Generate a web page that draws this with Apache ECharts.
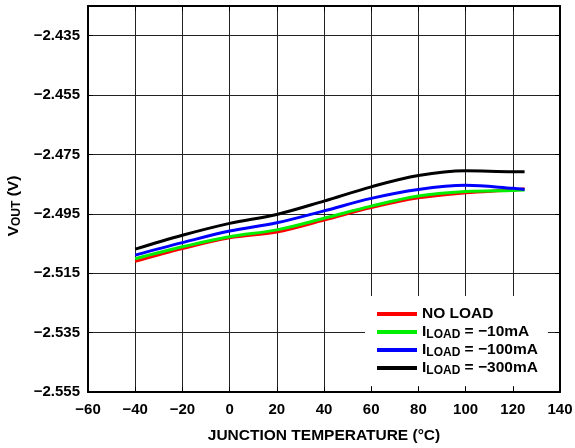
<!DOCTYPE html>
<html>
<head>
<meta charset="utf-8">
<script src="https://cdn.jsdelivr.net/npm/echarts@6/dist/echarts.min.js"></script>
<style>html,body{margin:0;padding:0;background:#fff}#c{width:575px;height:448px}</style>
</head>
<body>
<div id="c"></div>
<script>
var temps = [-40, -20, 0, 20, 40, 60, 80, 100, 120, 125];
var noLoad   = [-2.5110, -2.5067, -2.5031, -2.5011, -2.4971, -2.4929, -2.4896, -2.4879, -2.4870, -2.4865];
var load10   = [-2.5101, -2.5061, -2.5027, -2.5004, -2.4965, -2.4924, -2.4890, -2.4875, -2.4871, -2.4870];
var load100  = [-2.5089, -2.5047, -2.5008, -2.4980, -2.4940, -2.4898, -2.4868, -2.4854, -2.4864, -2.4868];
var load300  = [-2.5069, -2.5022, -2.4982, -2.4952, -2.4907, -2.4859, -2.4821, -2.4805, -2.4808, -2.4808];
var seriesNames = ['NO LOAD', 'ILOAD = \u221210mA', 'ILOAD = \u2212100mA', 'ILOAD = \u2212300mA'];
var legendRich = ['NO LOAD', '{b|I}{s|LOAD}{b| = \u221210mA}', '{b|I}{s|LOAD}{b| = \u2212100mA}', '{b|I}{s|LOAD}{b| = \u2212300mA}'];
var colors = ['#ff0000', '#00ee00', '#0000ff', '#000000'];
var allData = [noLoad, load10, load100, load300];

var FONT = '"Liberation Sans", Arial, sans-serif';
function pairs(vals){ return temps.map(function(t,i){ return [t, vals[i]]; }); }

var chart = echarts.init(document.getElementById('c'), null, {renderer:'canvas'});
var series = allData.map(function(d, i){
  return {
    name: seriesNames[i], type: 'line', data: pairs(d), smooth: 0.35,
    showSymbol: false, symbol: 'none',
    lineStyle: {color: colors[i], width: 3}, itemStyle: {color: colors[i]},
    z: 3 + i
  };
});
var richStyles = {
  b: {fontSize: 15.5, fontWeight: 'bold', fontFamily: FONT, color: '#000', lineHeight: 18, verticalAlign: 'middle'},
  s: {fontSize: 12, fontWeight: 'bold', fontFamily: FONT, color: '#000', lineHeight: 10, verticalAlign: 'bottom'}
};
chart.setOption({
  animation: false,
  backgroundColor: '#fff',
  grid: {left: 88, right: 15, top: 6, bottom: 56, containLabel: false, outerBoundsMode: 'none'},
  legend: {
    orient: 'vertical', left: 365, top: 296,
    padding: [9, 10, 9, 12], itemGap: 0,
    backgroundColor: '#fff',
    icon: 'rect', itemWidth: 40, itemHeight: 4,
    data: seriesNames,
    formatter: function(name){ return legendRich[seriesNames.indexOf(name)]; },
    textStyle: {fontSize: 15.5, fontWeight: 'bold', fontFamily: FONT, color: '#000', lineHeight: 18, rich: richStyles},
    z: 10
  },
  xAxis: [{
    type: 'value', min: -60, max: 140, interval: 20, position: 'bottom',
    name: 'JUNCTION TEMPERATURE (\u00b0C)', nameLocation: 'middle', nameGap: 36,
    nameTextStyle: {fontSize: 15.5, fontWeight: 'bold', fontFamily: FONT, color: '#000'},
    axisLine: {show: true, onZero: false, lineStyle: {color: '#000', width: 2}},
    axisTick: {show: true, inside: true, length: 5, lineStyle: {color: '#000', width: 1}},
    axisLabel: {fontSize: 15, fontWeight: 'bold', fontFamily: FONT, color: '#000', margin: 10,
      formatter: function(v){ return String(v).replace('-', '\u2212'); }},
    splitLine: {show: true, lineStyle: {color: '#222', width: 1}}
  }, {
    type: 'value', min: -60, max: 140, interval: 20, position: 'top',
    axisLine: {show: true, onZero: false, lineStyle: {color: '#000', width: 2}},
    axisTick: {show: true, inside: true, length: 5, lineStyle: {color: '#000'}},
    axisLabel: {show: false}, splitLine: {show: false}
  }],
  yAxis: [{
    type: 'value', min: -2.555, max: -2.425, interval: 0.02, position: 'left',
    name: '{b|V}{s|OUT}{b| (V)}', nameLocation: 'middle', nameGap: 64, nameRotate: 90,
    nameTextStyle: {rich: richStyles, padding: [0, 14, 0, 0]},
    axisLine: {show: true, onZero: false, lineStyle: {color: '#000', width: 2}},
    axisTick: {show: true, inside: true, length: 5, lineStyle: {color: '#000'}},
    axisLabel: {fontSize: 15, fontWeight: 'bold', fontFamily: FONT, color: '#000', margin: 8,
      showMaxLabel: false,
      formatter: function(v){ if (Math.abs(v + 2.425) < 1e-6) return ''; return v.toFixed(3).replace('-', '\u2212'); }},
    splitLine: {show: true, lineStyle: {color: '#222', width: 1}}
  }, {
    type: 'value', min: -2.555, max: -2.425, interval: 0.02, position: 'right',
    axisLine: {show: true, onZero: false, lineStyle: {color: '#000', width: 2}},
    axisTick: {show: true, inside: true, length: 5, lineStyle: {color: '#000'}},
    axisLabel: {show: false}, splitLine: {show: false}
  }],
  series: series
});
</script>
</body>
</html>
